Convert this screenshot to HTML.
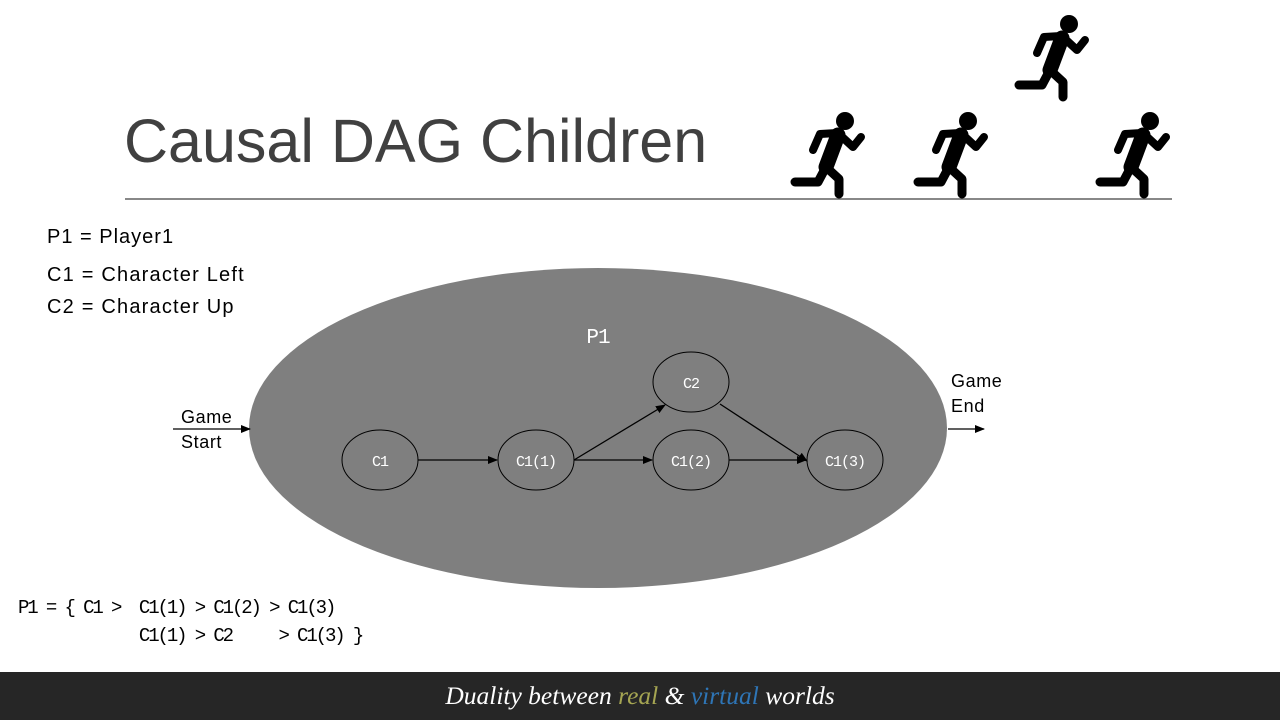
<!DOCTYPE html>
<html><head><meta charset="utf-8"><style>
body{margin:0;width:1280px;height:720px;overflow:hidden;background:#fff;font-family:"Liberation Sans",sans-serif;position:relative}
.t{position:absolute;white-space:pre}
</style></head><body>
<svg width="1280" height="720" style="position:absolute;left:0;top:0">
<defs>
<g id="r" stroke="#000" stroke-linecap="round" stroke-linejoin="round" fill="none">
<circle cx="55" cy="9" r="9" fill="#000" stroke="none"/>
<path d="M48 23 L36 55" stroke-width="15"/>
<path d="M47 21 L30 22 L23 38" stroke-width="8"/>
<path d="M50 23 L63 35 L71 25" stroke-width="8"/>
<path d="M36 55 L28 70 L5 70" stroke-width="9"/>
<path d="M36 55 L49 67 L49 82" stroke-width="9"/>
</g>
<marker id="a" markerWidth="10" markerHeight="8" refX="9" refY="4" orient="auto" markerUnits="userSpaceOnUse"><path d="M0 0 L10 4 L0 8Z" fill="#000"/></marker>
</defs>
<use href="#r" x="790" y="112"/><use href="#r" x="913" y="112"/><use href="#r" x="1095" y="112"/><use href="#r" x="1014" y="15"/>
<line x1="125" y1="199" x2="1172" y2="199" stroke="#404040" stroke-width="1.2"/>
<ellipse cx="598" cy="428" rx="349" ry="160" fill="#7f7f7f"/>
<g fill="none" stroke="#000" stroke-width="1">
<ellipse cx="380" cy="460" rx="38" ry="30"/><ellipse cx="536" cy="460" rx="38" ry="30"/>
<ellipse cx="691" cy="460" rx="38" ry="30"/><ellipse cx="845" cy="460" rx="38" ry="30"/>
<ellipse cx="691" cy="382" rx="38" ry="30"/>
<g stroke-width="1.3" marker-end="url(#a)">
<line x1="418" y1="460" x2="497" y2="460"/><line x1="574" y1="460" x2="652" y2="460"/>
<line x1="729" y1="460" x2="806" y2="460"/><line x1="574" y1="460" x2="665" y2="405"/>
<line x1="720" y1="404" x2="807" y2="461"/>
<line x1="173" y1="429" x2="250" y2="429"/><line x1="948" y1="429" x2="984" y2="429"/>
</g></g>
<g fill="#fff" font-family="Liberation Mono,monospace" font-size="15" text-anchor="middle" letter-spacing="-1">
<text x="380" y="466">C1</text><text x="536" y="466">C1(1)</text><text x="691" y="466">C1(2)</text><text x="845" y="466">C1(3)</text><text x="691" y="388">C2</text>
<text x="598" y="343" font-size="21">P1</text></g>
</svg>
<div class="t" style="left:124px;top:106px;font-size:61px;color:#404040">Causal DAG Children</div>
<div class="t" style="left:47px;top:226px;font-size:20px;letter-spacing:1px">P1 = Player1</div>
<div class="t" style="left:47px;top:264px;font-size:20px;letter-spacing:1.2px">C1 = Character Left</div>
<div class="t" style="left:47px;top:296px;font-size:20px;letter-spacing:1.2px">C2 = Character Up</div>
<div class="t" style="left:181px;top:405px;font-size:18px;line-height:25px;letter-spacing:0.6px">Game
Start</div>
<div class="t" style="left:951px;top:369px;font-size:18px;line-height:25px;letter-spacing:0.6px">Game
End</div>
<div class="t" style="left:18px;top:594px;font-size:19px;font-family:'Liberation Mono',monospace;line-height:28px;letter-spacing:-2.1px">P1 = { C1 >  C1(1) > C1(2) > C1(3)
             C1(1) > C2     > C1(3) }</div>
<div style="position:absolute;left:0;top:672px;width:1280px;height:48px;background:#262626"></div>
<div class="t" style="left:0;width:1280px;top:681px;text-align:center;font-family:'Liberation Serif',serif;font-style:italic;font-size:25.5px;color:#fff">Duality between <span style="color:#a5a552">real</span> &amp; <span style="color:#2e75b6">virtual</span> worlds</div>
</body></html>
